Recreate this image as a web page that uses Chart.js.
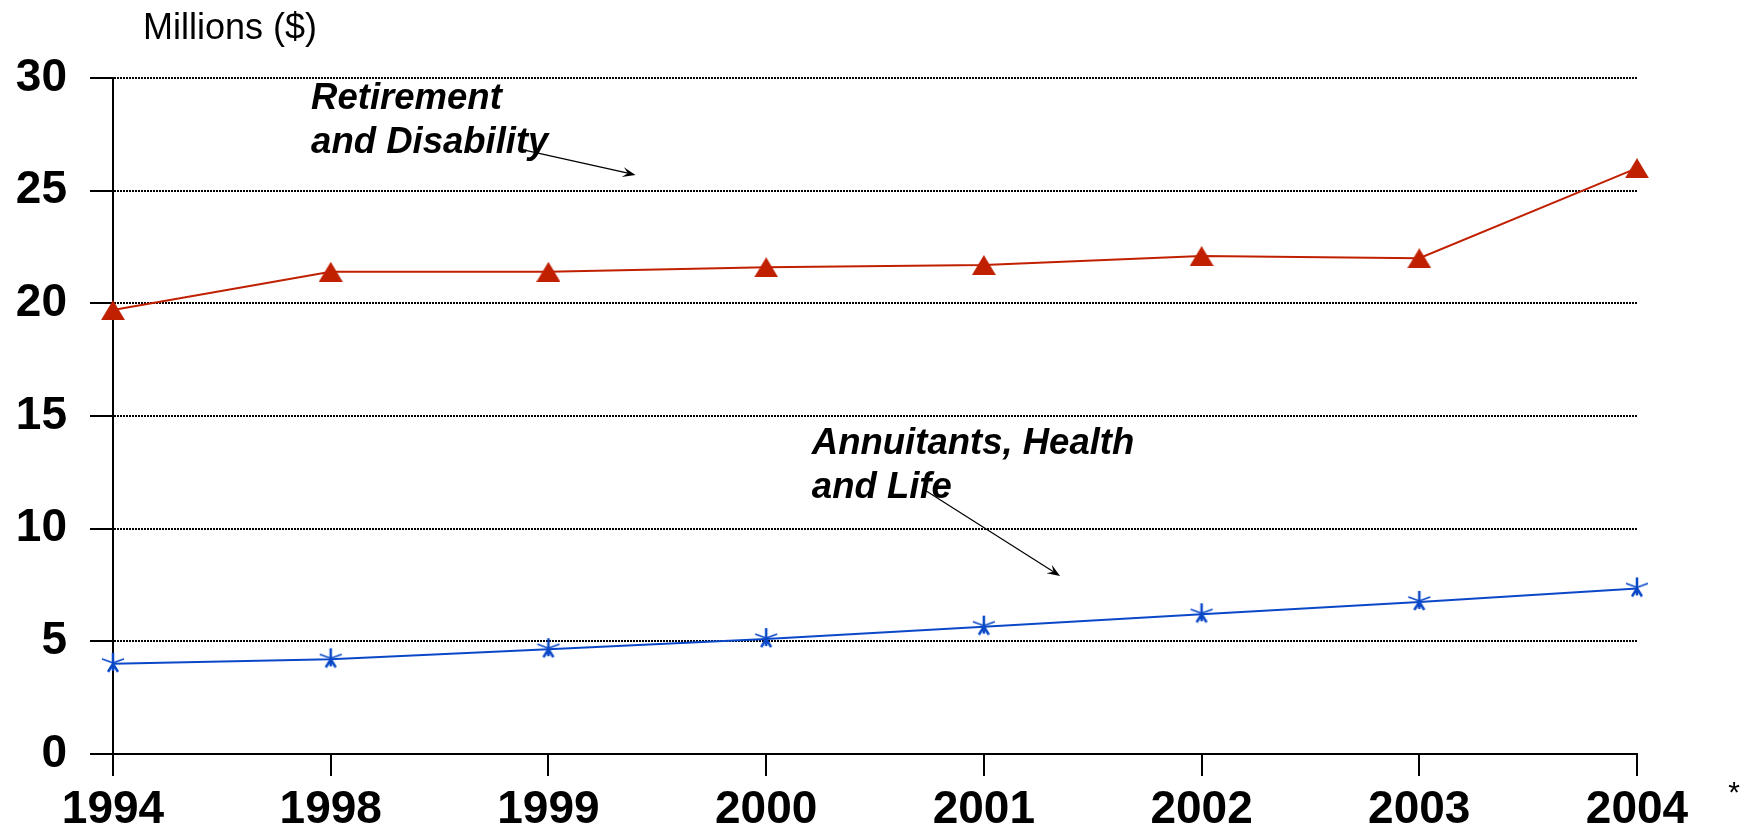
<!DOCTYPE html>
<html lang="en">
<head>
  <meta charset="UTF-8">
  <title>Retirement and Disability / Annuitants, Health and Life</title>
  <script src="https://cdn.jsdelivr.net/npm/chart.js"></script>
  <style>
    html, body { margin: 0; padding: 0; background: #fff; }
    #wrap { width: 1747px; height: 833px; }
  </style>
</head>
<body>
  <div id="wrap"><canvas id="chart" width="1747" height="833"></canvas></div>

  <script>
    // data (millions of dollars)
    const years = ['1994', '1998', '1999', '2000', '2001', '2002', '2003', '2004'];
    const retirementDisability = [19.7, 21.4, 21.4, 21.6, 21.7, 22.1, 22.0, 26.0];
    const annuitantsHealthLife = [4.0, 4.2, 4.65, 5.1, 5.65, 6.2, 6.75, 7.35];
    const yTicks = [0, 5, 10, 15, 20, 25, 30];

    const FONT = '"Liberation Sans", Arial, Helvetica, sans-serif';
    const RED = '#c02000';
    const BLUE = '#0a48c8';

    // triangle marker, centred on its bounding box like the original
    function triangleMarker() {
      const c = document.createElement('canvas');
      c.width = 24; c.height = 20;
      const g = c.getContext('2d');
      g.fillStyle = RED;
      g.beginPath();
      g.moveTo(12, 0); g.lineTo(24, 20); g.lineTo(0, 20);
      g.closePath();
      g.fill();
      return c;
    }

    // asterisk marker
    function starMarker() {
      const c = document.createElement('canvas');
      c.width = 24; c.height = 24;
      const g = c.getContext('2d');
      g.strokeStyle = BLUE;
      g.lineCap = 'butt';
      g.lineWidth = 2.5;
      g.beginPath();
      g.moveTo(12, 1); g.lineTo(12, 19);
      g.moveTo(12, 12); g.lineTo(7, 20);
      g.moveTo(12, 12); g.lineTo(17, 20);
      g.stroke();
      g.lineWidth = 1.5;
      g.beginPath();
      g.moveTo(12, 11); g.lineTo(1, 7);
      g.moveTo(12, 11); g.lineTo(23, 7);
      g.stroke();
      return c;
    }

    // callouts, placed in data units (category index, value)
    const notes = [
      { lines: ['Retirement', 'and Disability'], at: [0.91, 29.05], from: [1.89, 26.8], to: [2.40, 25.7] },
      { lines: ['Annuitants, Health', 'and Life'], at: [3.21, 13.75], from: [3.73, 11.7], to: [4.35, 7.9] }
    ];

    function drawArrow(ctx, x1, y1, x2, y2) {
      ctx.save();
      ctx.strokeStyle = '#000';
      ctx.fillStyle = '#000';
      ctx.lineWidth = 1.2;
      const a = Math.atan2(y2 - y1, x2 - x1);
      const len = 13, half = 5;
      ctx.beginPath();
      ctx.moveTo(x1, y1);
      ctx.lineTo(x2 - Math.cos(a) * len * 0.6, y2 - Math.sin(a) * len * 0.6);
      ctx.stroke();
      ctx.beginPath();
      ctx.moveTo(x2, y2);
      ctx.lineTo(x2 - Math.cos(a) * len + Math.sin(a) * half, y2 - Math.sin(a) * len - Math.cos(a) * half);
      ctx.lineTo(x2 - Math.cos(a) * len * 0.6, y2 - Math.sin(a) * len * 0.6);
      ctx.lineTo(x2 - Math.cos(a) * len - Math.sin(a) * half, y2 - Math.sin(a) * len + Math.cos(a) * half);
      ctx.closePath();
      ctx.fill();
      ctx.restore();
    }

    const calloutPlugin = {
      id: 'callouts',
      afterDatasetsDraw(chart) {
        const ctx = chart.ctx;
        const xs = chart.scales.x, ys = chart.scales.y;
        const area = chart.chartArea;

        ctx.save();
        ctx.fillStyle = '#000';
        ctx.textBaseline = 'middle';

        notes.forEach(n => {
          ctx.font = 'italic bold 36.5px ' + FONT;
          ctx.textAlign = 'left';
          const x = xs.getPixelForValue(n.at[0]);
          const y = ys.getPixelForValue(n.at[1]);
          n.lines.forEach((t, i) => ctx.fillText(t, x, y + i * 44));
          drawArrow(ctx,
            xs.getPixelForValue(n.from[0]), ys.getPixelForValue(n.from[1]),
            xs.getPixelForValue(n.to[0]), ys.getPixelForValue(n.to[1]));
        });

        // unit label above the value axis
        ctx.font = '36px ' + FONT;
        ctx.textAlign = 'left';
        ctx.fillText('Millions ($)', area.left + 30, area.top - 49);

        // footnote mark after the last year
        ctx.font = '30px ' + FONT;
        ctx.textAlign = 'center';
        ctx.fillText('*', area.right + 97, area.bottom + 40);
        ctx.restore();
      }
    };

    const ctx = document.getElementById('chart').getContext('2d');
    new Chart(ctx, {
      type: 'line',
      data: {
        labels: years,
        datasets: [
          {
            label: 'Retirement and Disability',
            data: retirementDisability,
            borderColor: RED,
            borderWidth: 2,
            pointStyle: triangleMarker(),
            pointRadius: 12,
            tension: 0
          },
          {
            label: 'Annuitants, Health and Life',
            data: annuitantsHealthLife,
            borderColor: BLUE,
            borderWidth: 2,
            pointStyle: starMarker(),
            pointRadius: 12,
            tension: 0
          }
        ]
      },
      options: {
        responsive: false,
        animation: false,
        devicePixelRatio: 1,
        layout: { padding: { top: 78, right: 110, left: 0, bottom: 0 } },
        plugins: {
          legend: { display: false },
          tooltip: { enabled: false }
        },
        scales: {
          x: {
            type: 'category',
            offset: false,
            afterFit: s => { s.height = 79; },
            grid: {
              drawOnChartArea: false,
              drawTicks: true,
              tickLength: 22,
              color: '#000',
              lineWidth: 2
            },
            border: { display: true, color: '#000', width: 2, dash: [2, 1] },
            ticks: {
              color: '#000',
              padding: 7,
              maxRotation: 0,
              autoSkip: false,
              font: { family: FONT, size: 46, weight: 'bold' }
            }
          },
          y: {
            min: 0,
            max: 30,
            afterFit: s => { s.width = 113; },
            afterBuildTicks: s => { s.ticks = yTicks.map(v => ({ value: v })); },
            grid: {
              drawOnChartArea: true,
              drawTicks: true,
              tickLength: 23,
              color: '#000',
              lineWidth: 2
            },
            border: { display: true, color: '#000', width: 2, dash: [2, 1] },
            ticks: {
              color: '#000',
              padding: 23,
              font: { family: FONT, size: 46, weight: 'bold' }
            }
          }
        }
      },
      plugins: [calloutPlugin]
    });
  </script>
</body>
</html>
